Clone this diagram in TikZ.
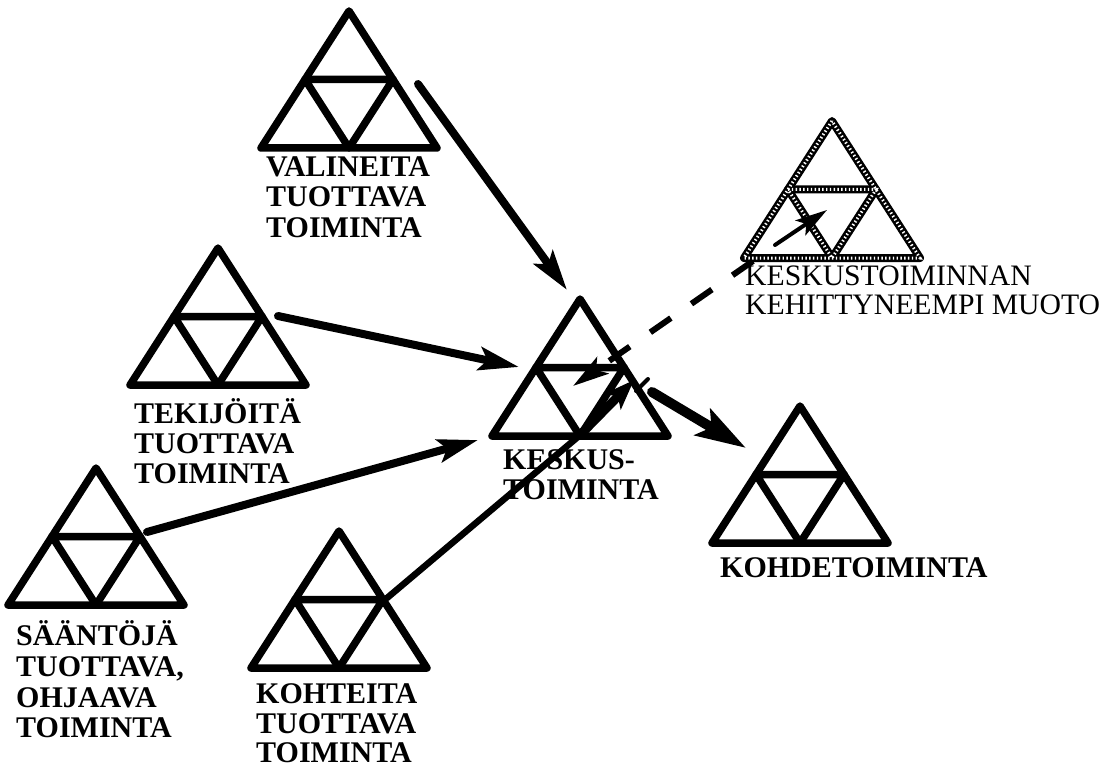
\documentclass[tikz,border=0pt]{standalone}
\usepackage{fontspec}
\setmainfont{Liberation Serif}
\usetikzlibrary{arrows.meta}
\tikzset{
  trl/.style={line width=7.5pt, line join=round, draw=black},
  hatchA/.style={line width=8pt, line join=round, draw=black},
  hatchB/.style={line width=3pt, draw=white, dash pattern=on 1.4pt off 2.4pt},
  lbl/.style={font=\fontsize{30}{30}\selectfont\bfseries, inner sep=0pt, anchor=base west},
  lblr/.style={font=\fontsize{29.7}{29}\selectfont, inner sep=0pt, anchor=base west},
  arr/.style={line width=8pt, line cap=round, -{Stealth[length=40pt,width=23pt,inset=8pt]}},
  bigarr/.style={line width=10pt, line cap=round, -{Stealth[length=50pt,width=30pt,inset=10pt]}},
  dasharr/.style={line width=6pt, dash pattern=on 25pt off 25pt, -{Stealth[length=36pt,width=20pt,inset=8pt]}},
  smallarr/.style={line width=4pt, line cap=round, -{Stealth[length=32pt,width=18pt,inset=7pt]}},
  plainline/.style={line width=6.5pt, line cap=round},
  tri/.pic={
    \draw[trl] (0,0) -- (-88,137) -- (88,137) -- cycle;
    \draw[trl] (-44,68.5) -- (44,68.5) -- (0,137) -- cycle;
  },
  hatchtri/.pic={
    \draw[hatchA] (0,0) -- (-88,137) -- (88,137) -- cycle;
    \draw[hatchA] (-44,68.5) -- (44,68.5) -- (0,137) -- cycle;
    \draw[hatchB] (0,0) -- (-88,137) -- (88,137) -- cycle;
    \draw[hatchB] (-44,68.5) -- (44,68.5) -- (0,137) -- cycle;
  }
}
\begin{document}
\begin{tikzpicture}[x=1pt,y=-1pt]
\useasboundingbox (0,0) rectangle (1115,767);

% triangles (apex positions)
\pic at (349,11) {tri};    % valineita
\pic at (218,248) {tri};   % tekijoita
\pic at (580,299) {tri};   % keskus
\pic at (96,468) {tri};    % saantoja
\pic at (339,531) {tri};   % kohteita
\pic at (800,406) {tri};   % kohde
\pic at (832,121) {hatchtri}; % kehittyneempi

% labels
\node[lbl] (v1) at (266,177) {VALINEITA};
\node[lbl] (v2) at (266,207) {TUOTTAVA};
\node[lbl] (v3) at (266,237) {TOIMINTA};

\node[lbl] (t1) at (134,423) {TEKIJÖITÄ};
\node[lbl] (t2) at (134,453) {TUOTTAVA};
\node[lbl] (t3) at (134,483) {TOIMINTA};

\node[lbl] (k1) at (503,469) {KESKUS-};
\node[lbl] (k2) at (503,499) {TOIMINTA};

\node[lbl] (s1) at (16,645) {SÄÄNTÖJÄ};
\node[lbl] (s2) at (16,676) {TUOTTAVA,};
\node[lbl] (s3) at (16,707) {OHJAAVA};
\node[lbl] (s4) at (16,737) {TOIMINTA};

\node[lbl] (o1) at (256,703) {KOHTEITA};
\node[lbl] (o2) at (256,733) {TUOTTAVA};
\node[lbl] (o3) at (256,762) {TOIMINTA};

\node[lbl] (d1) at (720,577) {KOHDETOIMINTA};

\node[lblr] (h1) at (745,285) {KESKUSTOIMINNAN};
\node[lblr] (h2) at (745,314) {KEHITTYNEEMPI MUOTO};

% connector end points
\coordinate (a1s) at (418,84);  \coordinate (a1e) at (567,290);
\coordinate (a2s) at (278,316); \coordinate (a2e) at (519,367);
\coordinate (a3s) at (147,532); \coordinate (a3e) at (478,440);
\coordinate (a4s) at (387,598); \coordinate (a4m) at (579,436);
\coordinate (a6s) at (583,432); \coordinate (a6e) at (634,380);
\coordinate (a7s) at (636,391); \coordinate (a7e) at (648,379);
\coordinate (a5s) at (652,392); \coordinate (a5e) at (746,448);
\coordinate (dls) at (753,261); \coordinate (dle) at (573,386);
\coordinate (hs)  at (775,245); \coordinate (he)  at (827,210);

% connectors
\draw[arr] (a1s) -- (a1e);
\draw[arr] (a2s) -- (a2e);
\draw[arr] (a3s) -- (a3e);
\draw[plainline] (a4s) -- (a4m);
\draw[line width=9pt, -{Stealth[length=30pt,width=22pt,inset=7pt]}] (a6s) -- (a6e);
\draw[line width=4pt, line cap=round] (a7s) -- (a7e);
\draw[bigarr] (a5s) -- (a5e);
\draw[dasharr] (dls) -- (dle);
\draw[smallarr] (hs) -- (he);
\end{tikzpicture}
\end{document}
